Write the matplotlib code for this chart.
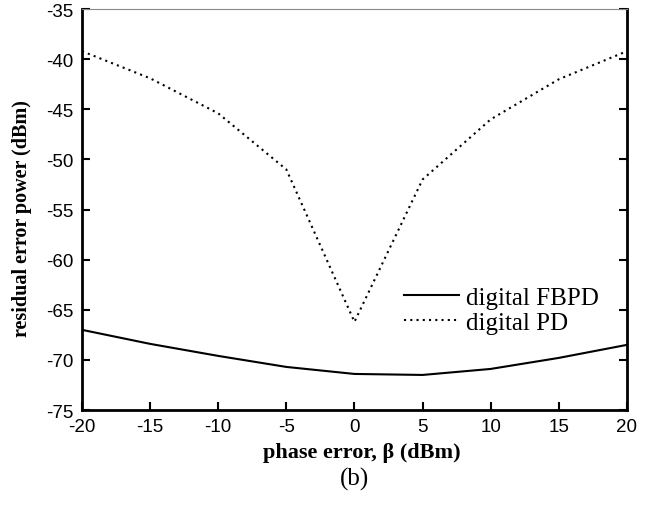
import numpy as np
import matplotlib.pyplot as plt

plt.rcParams['axes.unicode_minus'] = False

# phase error (x) and residual error power (y)
beta = [-20, -15, -10, -5, 0, 5, 10, 15, 20]
fbpd = [-67.0, -68.4, -69.6, -70.7, -71.4, -71.5, -70.9, -69.8, -68.5]
pd = [-39.2, -41.9, -45.4, -51.0, -66.2, -52.0, -46.0, -42.0, -39.2]

fig = plt.figure(figsize=(6.53, 5.06), dpi=100)
ax = fig.add_axes([0.1256, 0.1877, 0.8344, 0.7923])

ax.plot(beta, fbpd, color='black', lw=1.5, label='digital FBPD')
ax.plot(beta, pd, color='black', lw=1.5, linestyle=(0, (1, 2)), label='digital PD')

ax.set_xlim(-20, 20)
ax.set_ylim(-75, -35)
ax.set_xticks(np.arange(-20, 21, 5))
ax.set_yticks(np.arange(-75, -34, 5))

for lab in ax.get_xticklabels() + ax.get_yticklabels():
    lab.set_family('Liberation Sans')
    lab.set_fontsize(13.5)
ax.tick_params(direction='in', length=6, width=1.5, right=True, pad=6)

for s in ['left', 'bottom', 'right']:
    ax.spines[s].set_linewidth(2)
ax.spines['top'].set_linewidth(0.8)
ax.spines['top'].set_color('#888888')

ax.set_xlabel('phase error, β (dBm)', family='Liberation Serif',
              fontweight='bold', fontsize=16, labelpad=5)
ax.xaxis.label.set_x(0.513)
ax.set_ylabel('residual error power (dBm)', family='Liberation Serif',
              fontweight='bold', fontsize=14.5)
ax.yaxis.set_label_coords(-0.092, 0.48)
fig.text(0.543, 0.04, '(b)', ha='center', family='Liberation Serif', fontsize=18)

ax.legend(loc='center right', bbox_to_anchor=(0.99, 0.25), frameon=False,
          prop={'family': 'Liberation Serif', 'size': 18}, handlelength=2.2,
          handletextpad=0.3, labelspacing=0.1)

fig.savefig('out.png')
